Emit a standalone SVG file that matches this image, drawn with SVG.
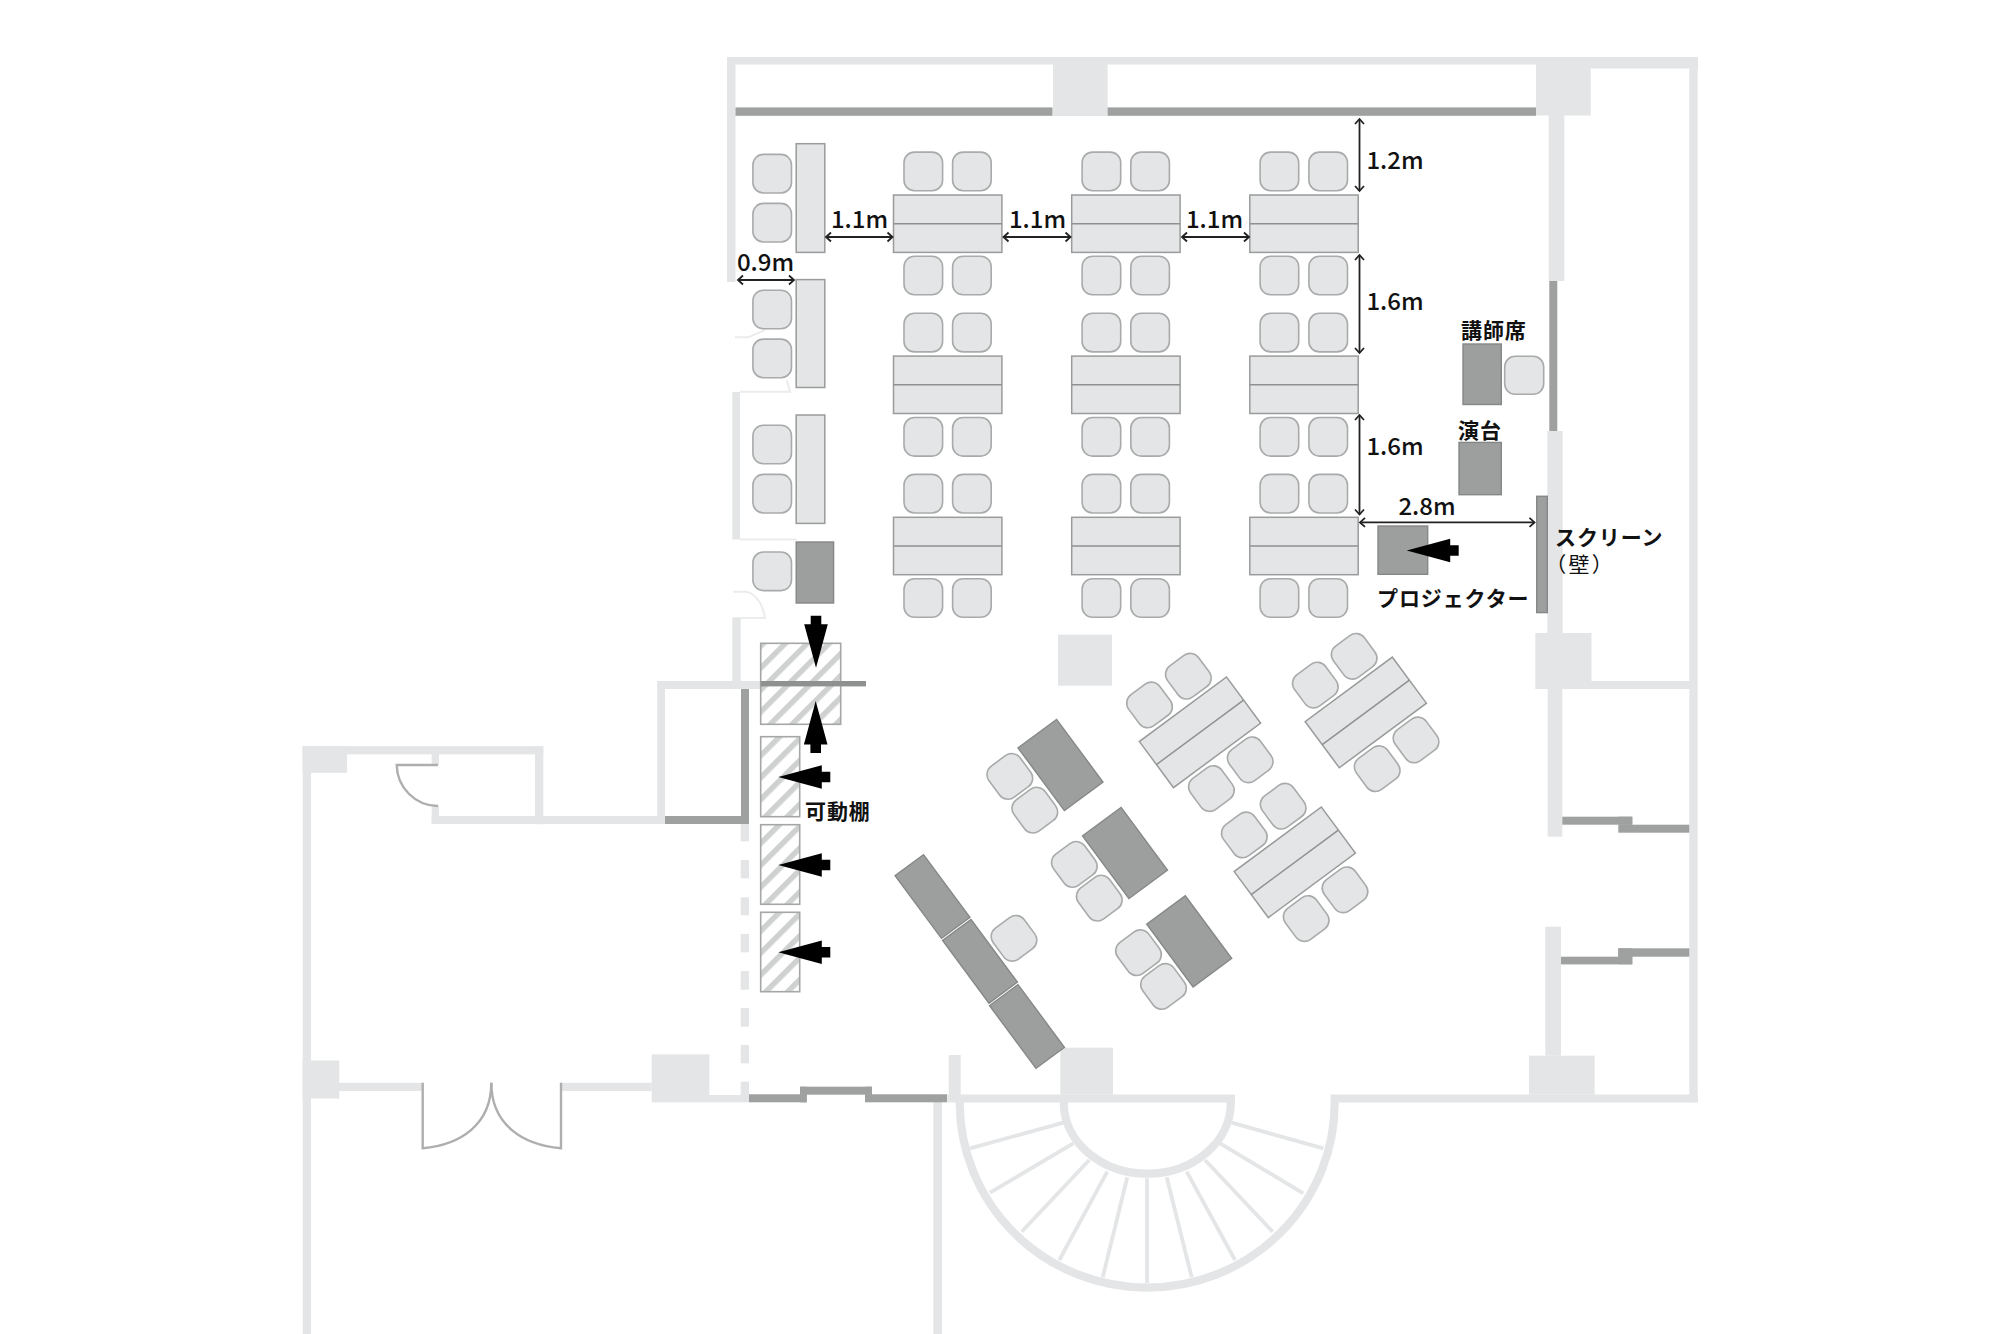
<svg xmlns="http://www.w3.org/2000/svg" width="2000" height="1334" viewBox="0 0 2000 1334">
<style>
.wall{fill:#e4e5e6}
.glass{fill:#9fa0a0}
.faint{fill:none;stroke:#ececec;stroke-width:2}
.door{fill:none;stroke:#aeaeae;stroke-width:2.4}
.stair{fill:none;stroke:#e4e5e6}
.seat{fill:#e4e5e6;stroke:#a9aaaa;stroke-width:1.6}
.tbl{fill:#e4e5e6;stroke:#9a9b9b;stroke-width:1.5}
.dark{fill:#9d9e9e;stroke:#868787;stroke-width:1.4}
.hatch{fill:url(#hatch);stroke:#a5a6a6;stroke-width:1.6}
.div{stroke:#8f9090;stroke-width:1.5}
.dim{fill:none;stroke:#222;stroke-width:1.8;marker-start:url(#chev);marker-end:url(#chev)}
.m{font-family:"Noto Sans CJK JP","Noto Sans",sans-serif;font-size:24px;font-weight:500;fill:#111;text-anchor:middle}
.j{font-family:"Noto Sans CJK JP","Noto Sans",sans-serif;font-size:21px;font-weight:700;fill:#111;letter-spacing:.9px}
</style>
<defs>
<pattern id="hatch" width="15.5" height="15.5" patternUnits="userSpaceOnUse" patternTransform="rotate(45)">
<rect width="15.5" height="15.5" fill="#fff"/>
<rect width="5.5" height="15.5" fill="#cfd0d0"/>
</pattern>
<marker id="chev" viewBox="-8 -6 10 12" refX="0" refY="0" markerWidth="10" markerHeight="12" markerUnits="userSpaceOnUse" orient="auto-start-reverse">
<path d="M-5 -4.5L0 0L-5 4.5" fill="none" stroke="#222" stroke-width="1.8"/>
</marker>
<rect id="seat" class="seat" x="-19.3" y="-19.3" width="38.6" height="38.6" rx="10.5"/>
<polygon id="blk" points="0,0 43.5,-11.8 43.5,-5.3 52,-5.3 52,5.3 43.5,5.3 43.5,11.8" fill="#000"/>
<g id="pair">
<rect class="tbl" x="-54.2" y="-28.7" width="108.4" height="57.4"/>
<line class="div" x1="-54.2" y1="0" x2="54.2" y2="0"/>
</g>
<g id="set4">
<use href="#pair"/>
<use href="#seat" x="-24.3" y="-52"/><use href="#seat" x="24" y="-52"/>
<use href="#seat" x="-24.3" y="52"/><use href="#seat" x="24" y="52"/>
</g>
<g id="set2">
<rect class="dark" x="-24" y="-39" width="48" height="78"/>
<use href="#seat" x="-47.5" y="-21"/><use href="#seat" x="-47.5" y="21"/>
</g>
</defs>
<rect width="2000" height="1334" fill="#fff"/>

<g id="walls">
<rect class="wall" x="727" y="57" width="971" height="7.5"/>
<rect class="wall" x="727" y="57" width="8.5" height="225"/>
<rect class="wall" x="1590" y="57" width="108" height="11.5"/>
<rect class="wall" x="1053" y="60" width="54.6" height="56"/>
<rect class="wall" x="1536" y="60" width="54.7" height="55.5"/>
<rect class="wall" x="1548.7" y="115" width="15.6" height="166"/>
<rect class="wall" x="1547.3" y="431" width="15.4" height="203"/>
<rect class="wall" x="1535.3" y="633" width="56.2" height="56"/>
<rect class="wall" x="1591" y="681" width="99" height="8"/>
<rect class="wall" x="1689.3" y="57" width="8.4" height="1045.3"/>
<rect class="wall" x="1547.7" y="689" width="14.6" height="147.7"/>
<rect class="wall" x="1545.3" y="926.7" width="15.7" height="129"/>
<rect class="wall" x="1529" y="1055.7" width="65.7" height="39"/>
<rect class="wall" x="1330.7" y="1094.5" width="367" height="8"/>
<rect class="wall" x="1058" y="634.7" width="54" height="51"/>
<rect class="wall" x="732.3" y="392" width="7.7" height="147.5"/>
<rect class="wall" x="732.3" y="617.3" width="8.4" height="64"/>
<rect class="wall" x="657.3" y="681" width="103.4" height="8"/>
<rect class="wall" x="657.3" y="681" width="7.7" height="143"/>
<rect class="wall" x="431.7" y="816" width="233.3" height="8"/>
<rect class="wall" x="535" y="746.2" width="8.3" height="78"/>
<rect class="wall" x="302.7" y="746.2" width="240.6" height="8.2"/>
<rect class="wall" x="302.7" y="746.2" width="44.3" height="26.6"/>
<rect class="wall" x="302.7" y="746.2" width="8.3" height="587.8"/>
<rect class="wall" x="431.7" y="754" width="7.3" height="11"/>
<rect class="wall" x="431.7" y="806" width="7.3" height="18"/>
<rect class="wall" x="302.7" y="1060.5" width="36.6" height="38"/>
<rect class="wall" x="339" y="1082.8" width="83.7" height="8.2"/>
<rect class="wall" x="561.7" y="1082.8" width="90" height="8.2"/>
<rect class="wall" x="651.7" y="1054.3" width="57.6" height="48"/>
<rect class="wall" x="709" y="1095" width="32" height="7.3"/>
<rect class="wall" x="740.7" y="824" width="8.3" height="17.3"/>
<rect class="wall" x="740.7" y="860" width="8.3" height="18.3"/>
<rect class="wall" x="740.7" y="897.3" width="8.3" height="18"/>
<rect class="wall" x="740.7" y="934" width="8.3" height="18.3"/>
<rect class="wall" x="740.7" y="971" width="8.3" height="18.7"/>
<rect class="wall" x="740.7" y="1008" width="8.3" height="18.7"/>
<rect class="wall" x="740.7" y="1045" width="8.3" height="18.3"/>
<rect class="wall" x="740.7" y="1081.7" width="8.3" height="20.6"/>
<rect class="wall" x="948.7" y="1055" width="12" height="47"/>
<rect class="wall" x="1060.3" y="1047.7" width="52.7" height="47"/>
<rect class="wall" x="947.3" y="1094.5" width="287.7" height="8"/>
<rect class="wall" x="933.3" y="1102" width="8.7" height="232"/>
<rect class="glass" x="735.5" y="107.4" width="317" height="8.4"/>
<rect class="glass" x="1107.6" y="107.4" width="428.4" height="8.4"/>
<rect class="glass" x="1549.3" y="281" width="8" height="150"/>
<rect class="glass" x="1562.3" y="816.7" width="70" height="8"/>
<rect class="glass" x="1618.3" y="824.7" width="71" height="8"/>
<rect class="glass" x="1618.3" y="816.7" width="14" height="8"/>
<rect class="glass" x="1561" y="956.7" width="71.3" height="7.7"/>
<rect class="glass" x="1618.3" y="948.3" width="71" height="8.4"/>
<rect class="glass" x="1618.3" y="948.3" width="14" height="16"/>
<rect class="glass" x="665" y="816" width="84" height="8"/>
<rect class="glass" x="741" y="689" width="8" height="135"/>
<rect class="glass" x="749" y="1094.3" width="57.7" height="8"/>
<rect class="glass" x="800" y="1086.7" width="72" height="8"/>
<rect class="glass" x="800" y="1086.7" width="6.7" height="15.6"/>
<rect class="glass" x="865" y="1094.3" width="82" height="8"/>
<rect class="glass" x="865" y="1086.7" width="7" height="8"/>
<path class="door" d="M438 765H396.7C397 787 415 806 438 806"/>
<path class="door" d="M422.7 1082.8V1148.2C460 1145 491.3 1125 491.3 1082.8"/>
<path class="door" d="M561 1082.8V1148.2C523 1145 491.3 1125 491.3 1082.8"/>
<path class="faint" d="M735 337.3H748.3L765 330M786.7 380L790 391.7H740M740 539.5H796.7"/>
<path class="faint" d="M733.3 591.7H747C758 595 763 607 765 618H740"/>
</g>

<g id="stairs">
<path class="stair" stroke-width="8.2" d="M959.7 1100V1102.7A187.5 185 0 0 0 1334.7 1102.7V1100"/>
<path class="stair" stroke-width="8.2" d="M1063.8 1100V1102.7A83.5 71 0 0 0 1230.8 1102.7V1100"/>
<g class="stair" stroke-width="3.8">
<line x1="1063.3" y1="1122.7" x2="970" y2="1148.3"/>
<line x1="1073.3" y1="1143.3" x2="990" y2="1192.7"/>
<line x1="1089.3" y1="1160" x2="1021.7" y2="1231.7"/>
<line x1="1107.3" y1="1171.7" x2="1059.3" y2="1260"/>
<line x1="1127.3" y1="1177.3" x2="1102.7" y2="1277.3"/>
<line x1="1147" y1="1178.3" x2="1147" y2="1283.3"/>
<line x1="1166.7" y1="1177.3" x2="1191.7" y2="1277.3"/>
<line x1="1186.7" y1="1171.7" x2="1235" y2="1260"/>
<line x1="1205" y1="1160" x2="1272.7" y2="1231.7"/>
<line x1="1220" y1="1143.3" x2="1303.3" y2="1193.3"/>
<line x1="1231.7" y1="1122.7" x2="1323.3" y2="1148.3"/>
</g>
</g>

<g id="seats-main">
<g id="row-1">
<use href="#seat" x="923.3" y="171.4"/><use href="#seat" x="971.9" y="171.4"/><use href="#seat" x="1101.4" y="171.4"/><use href="#seat" x="1150.1" y="171.4"/><use href="#seat" x="1279.4" y="171.4"/><use href="#seat" x="1328.2" y="171.4"/>
<use href="#seat" x="923.3" y="275.5"/><use href="#seat" x="971.9" y="275.5"/><use href="#seat" x="1101.4" y="275.5"/><use href="#seat" x="1150.1" y="275.5"/><use href="#seat" x="1279.4" y="275.5"/><use href="#seat" x="1328.2" y="275.5"/>
<use href="#pair" x="947.7" y="223.7"/><use href="#pair" x="1125.9" y="223.7"/><use href="#pair" x="1304" y="223.7"/>
</g>
<g id="row-2">
<use href="#seat" x="923.3" y="332.6"/><use href="#seat" x="971.9" y="332.6"/><use href="#seat" x="1101.4" y="332.6"/><use href="#seat" x="1150.1" y="332.6"/><use href="#seat" x="1279.4" y="332.6"/><use href="#seat" x="1328.2" y="332.6"/>
<use href="#seat" x="923.3" y="436.8"/><use href="#seat" x="971.9" y="436.8"/><use href="#seat" x="1101.4" y="436.8"/><use href="#seat" x="1150.1" y="436.8"/><use href="#seat" x="1279.4" y="436.8"/><use href="#seat" x="1328.2" y="436.8"/>
<use href="#pair" x="947.7" y="384.8"/><use href="#pair" x="1125.9" y="384.8"/><use href="#pair" x="1304" y="384.8"/>
</g>
<g id="row-3">
<use href="#seat" x="923.3" y="493.7"/><use href="#seat" x="971.9" y="493.7"/><use href="#seat" x="1101.4" y="493.7"/><use href="#seat" x="1150.1" y="493.7"/><use href="#seat" x="1279.4" y="493.7"/><use href="#seat" x="1328.2" y="493.7"/>
<use href="#seat" x="923.3" y="598"/><use href="#seat" x="971.9" y="598"/><use href="#seat" x="1101.4" y="598"/><use href="#seat" x="1150.1" y="598"/><use href="#seat" x="1279.4" y="598"/><use href="#seat" x="1328.2" y="598"/>
<use href="#pair" x="947.7" y="546"/><use href="#pair" x="1125.9" y="546"/><use href="#pair" x="1304" y="546"/>
</g>
</g>

<g id="seats-left">
<rect class="tbl" x="796.2" y="143.7" width="28.6" height="108.7"/>
<rect class="tbl" x="796.2" y="279.6" width="28.6" height="107.9"/>
<rect class="tbl" x="796.2" y="415" width="28.6" height="108.4"/>
<rect class="dark" x="796.2" y="542" width="37.4" height="61"/>
<use href="#seat" x="772.2" y="173.7"/><use href="#seat" x="772.2" y="222.7"/>
<use href="#seat" x="772.2" y="309.5"/><use href="#seat" x="772.2" y="358.4"/>
<use href="#seat" x="772.2" y="444.5"/><use href="#seat" x="772.2" y="493.7"/>
<use href="#seat" x="772.2" y="571.3"/>
</g>

<g id="podium">
<rect class="dark" x="1463" y="344" width="38.3" height="60.5"/>
<rect class="seat" x="1504.7" y="356.3" width="39" height="38" rx="10.5"/>
<rect class="dark" x="1459" y="442.4" width="42.3" height="52.3"/>
<rect class="dark" x="1378" y="526" width="49.7" height="48.3"/>
<rect class="dark" x="1536.7" y="496.3" width="10.6" height="116.3"/>
</g>

<g id="seats-angled">
<use href="#set4" transform="translate(1200 732.3) rotate(-36.5)"/>
<use href="#set4" transform="translate(1365.8 712.4) rotate(-36.5)"/>
<use href="#set4" transform="translate(1294.8 862.3) rotate(-36.5)"/>
<use href="#set2" transform="translate(1060.5 765) rotate(-36.5)"/>
<use href="#set2" transform="translate(1125 853) rotate(-36.5)"/>
<use href="#set2" transform="translate(1189.2 941.3) rotate(-36.5)"/>
<rect class="dark" x="-17.7" y="-39" width="35.4" height="78" transform="translate(932.5 896.5) rotate(-36.5)"/>
<rect class="dark" x="-17.7" y="-39" width="35.4" height="78" transform="translate(980 961.3) rotate(-36.5)"/>
<rect class="dark" x="-17.7" y="-39" width="35.4" height="78" transform="translate(1027 1026.5) rotate(-36.5)"/>
<use href="#seat" transform="translate(1014 938.3) rotate(-36.5)"/>
</g>

<g id="shelves">
<rect class="hatch" x="760.7" y="643.3" width="80" height="81"/>
<rect x="760.7" y="681" width="105.3" height="5.4" fill="#8f9090"/>
<rect class="hatch" x="760.7" y="736.7" width="39" height="80"/>
<rect class="hatch" x="760.7" y="824.7" width="39" height="79.6"/>
<rect class="hatch" x="760.7" y="912.3" width="39" height="79.4"/>
</g>

<g id="connectors">
<line class="dim" x1="1359.5" y1="119" x2="1359.5" y2="191"/>
<line class="dim" x1="1359.5" y1="255" x2="1359.5" y2="353"/>
<line class="dim" x1="1359.5" y1="415" x2="1359.5" y2="514.5"/>
<line class="dim" x1="1360" y1="522.4" x2="1534.5" y2="522.4"/>
<line class="dim" x1="826" y1="237" x2="892.5" y2="237"/>
<line class="dim" x1="1003.5" y1="237" x2="1070.5" y2="237"/>
<line class="dim" x1="1182" y1="237" x2="1249" y2="237"/>
<line class="dim" x1="738" y1="280" x2="794" y2="280"/>
<use href="#blk" transform="translate(816 667.7) rotate(-90)"/>
<use href="#blk" transform="translate(815.7 701) rotate(90)"/>
<use href="#blk" x="778.3" y="777"/>
<use href="#blk" x="778.3" y="865"/>
<use href="#blk" x="778.3" y="952.3"/>
<use href="#blk" x="1406.7" y="550.5"/>
</g>

<g id="labels">
<text class="m" x="859.5" y="228">1.1m</text>
<text class="m" x="1037.5" y="228">1.1m</text>
<text class="m" x="1214.5" y="228">1.1m</text>
<text class="m" x="765.5" y="271">0.9m</text>
<text class="m" x="1395" y="169">1.2m</text>
<text class="m" x="1395" y="310">1.6m</text>
<text class="m" x="1395" y="455">1.6m</text>
<text class="m" x="1427" y="515">2.8m</text>
<text class="j" x="1461" y="338">講師席</text>
<text class="j" x="1458" y="438">演台</text>
<text class="j" x="1555" y="545">スクリーン</text>
<text class="j" x="1555" y="572" style="font-weight:400;font-feature-settings:'palt';letter-spacing:3px">（壁）</text>
<text class="j" x="1377" y="605.5">プロジェクター</text>
<text class="j" x="805" y="819">可動棚</text>
</g>
</svg>
